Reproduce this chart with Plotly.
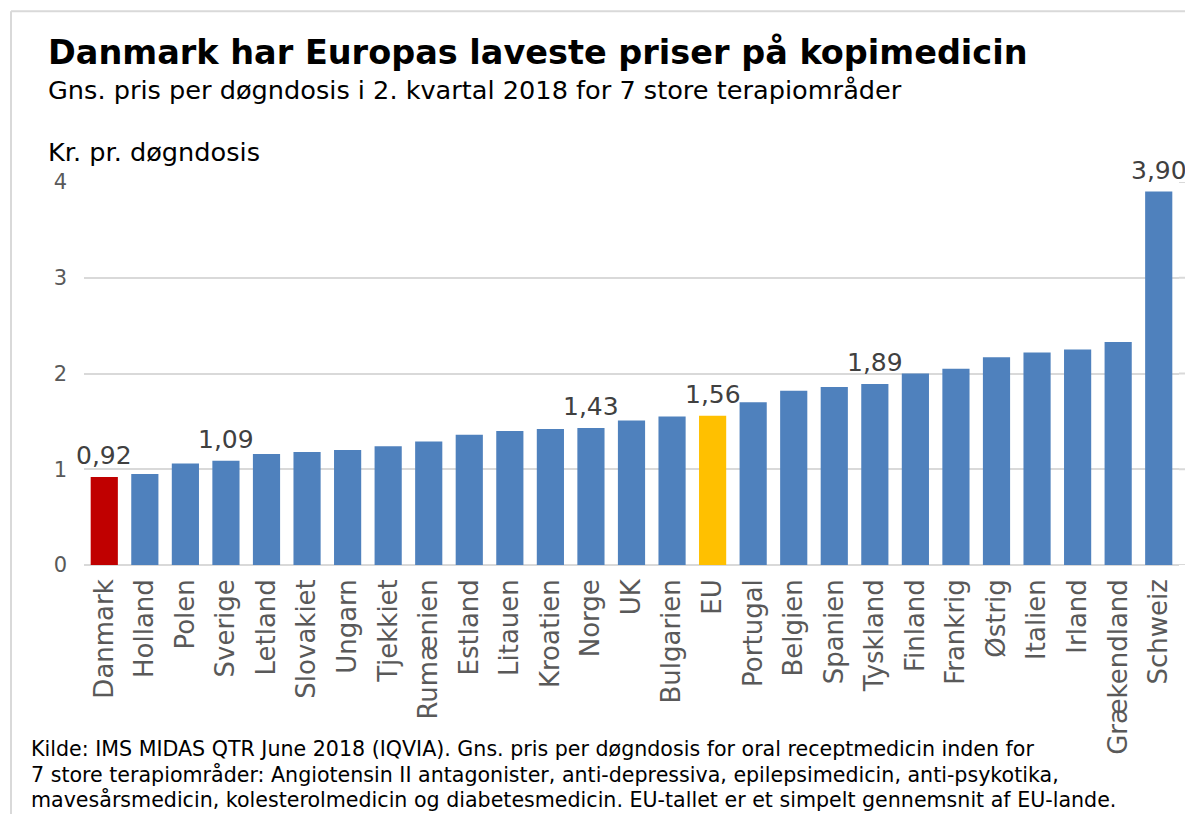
import plotly.graph_objects as go

countries = ["Danmark", "Holland", "Polen", "Sverige", "Letland", "Slovakiet", "Ungarn",
             "Tjekkiet", "Rumænien", "Estland", "Litauen", "Kroatien", "Norge", "UK",
             "Bulgarien", "EU", "Portugal", "Belgien", "Spanien", "Tyskland", "Finland",
             "Frankrig", "Østrig", "Italien", "Irland", "Grækendland", "Schweiz"]
prices = [0.92, 0.95, 1.06, 1.09, 1.16, 1.18, 1.20, 1.24, 1.29, 1.36, 1.40, 1.42, 1.43,
          1.51, 1.55, 1.56, 1.70, 1.82, 1.86, 1.89, 2.00, 2.05, 2.17, 2.22, 2.25, 2.33, 3.90]
labelled = ["Danmark", "Sverige", "Norge", "EU", "Tyskland", "Schweiz"]
y_ticks = [0, 1, 2, 3, 4]

BLUE, RED, YELLOW = "#4F81BD", "#C00000", "#FFC000"
colors = [RED if c == "Danmark" else YELLOW if c == "EU" else BLUE for c in countries]

OFF = 8  # browser body margin
W, H = 1193 - OFF, 814 - OFF
L, R, T, B = 84 - OFF, 14, 182 - OFF, 248.5
PW, PH = W - L - R, H - T - B

def px(x):
    return (x - OFF - L) / PW

def py(y):
    return (H - B - (y - OFF)) / PH

FONT = "DejaVu Sans, Verdana, sans-serif"

fig = go.Figure(go.Bar(
    x=countries, y=prices, marker=dict(color=colors, line=dict(width=0)),
    cliponaxis=False,
))

fig.update_layout(
    width=W, height=H, margin=dict(l=L, r=R, t=T, b=B, autoexpand=False),
    paper_bgcolor="white", plot_bgcolor="white",
    bargap=0.33, showlegend=False,
    font=dict(family=FONT),
    xaxis=dict(tickangle=-90, tickfont=dict(size=26, color="#595959"), automargin=False,
               range=[-0.5, len(countries) - 0.5],
               showgrid=False, ticks="", showline=False, ticklabelstandoff=8),
    yaxis=dict(range=[0, 4], tickvals=y_ticks, ticktext=[str(v) for v in y_ticks], automargin=False,
               tickfont=dict(size=21, color="#595959"), gridcolor="#D9D9D9", gridwidth=2,
               zeroline=True, zerolinecolor="#D9D9D9", zerolinewidth=2, ticks="", ticklabelstandoff=16),
)

# data labels
for c, v in zip(countries, prices):
    if c in labelled:
        fig.add_annotation(x=c, y=v, xref="x", yref="y", text=f"{v:.2f}".replace(".", ","),
                           showarrow=False, yanchor="bottom", yshift=5,
                           font=dict(size=25, color="#404040", family=FONT))

# gridline extension to the right of the category area
for t in y_ticks:
    fig.add_shape(type="line", xref="paper", yref="y", x0=1, x1=px(1186), y0=t, y1=t,
                  line=dict(color="#D9D9D9", width=2), layer="below")

anns = [
    ("<b>Danmark har Europas laveste priser på kopimedicin</b>", 46, 52, 33.5, "black"),
    ("Gns. pris per døgndosis i 2. kvartal 2018 for 7 store terapiområder", 46, 90, 25.6, "black"),
    ("Kr. pr. døgndosis", 46, 152, 25.6, "black"),
    ("Kilde: IMS MIDAS QTR June 2018 (IQVIA). Gns. pris per døgndosis for oral receptmedicin inden for", 29, 750, 20.6, "black"),
    ("7 store terapiområder: Angiotensin II antagonister, anti-depressiva, epilepsimedicin, anti-psykotika,", 29, 775, 20.6, "black"),
    ("mavesårsmedicin, kolesterolmedicin og diabetesmedicin. EU-tallet er et simpelt gennemsnit af EU-lande.", 29, 800, 20.6, "black"),
]
for text, x, y, size, col in anns:
    fig.add_annotation(text=text, xref="paper", yref="paper", x=px(x), y=py(y),
                       xanchor="left", yanchor="middle", showarrow=False,
                       font=dict(size=size, color=col, family=FONT))

fig.add_shape(type="line", xref="paper", yref="paper", x0=px(11), x1=px(1200), y0=py(11), y1=py(11),
              line=dict(color="#D9D9D9", width=2))
fig.add_shape(type="line", xref="paper", yref="paper", x0=px(11), x1=px(11), y0=py(11), y1=py(820),
              line=dict(color="#D9D9D9", width=2))

fig.write_html("out.html")
